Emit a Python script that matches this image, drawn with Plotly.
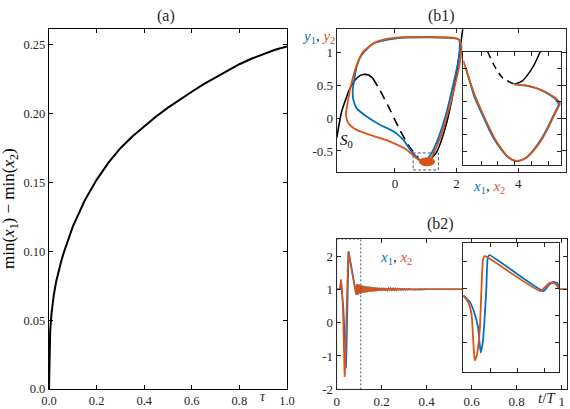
import plotly.graph_objects as go

BLUE = "#0072BD"
ORANGE = "#D95319"
FONT = "Liberation Serif, Times New Roman, DejaVu Serif, serif"

# ---------------- panel (a) ----------------
tau = [0, 0.001, 0.002, 0.005, 0.01, 0.015, 0.02, 0.03, 0.04, 0.05, 0.06, 0.075, 0.09, 0.1,
       0.15, 0.2, 0.25, 0.3, 0.35, 0.4, 0.45, 0.5, 0.55, 0.6, 0.65, 0.7, 0.75, 0.8,
       0.85, 0.9, 0.95, 1.0]
dmin = [0, 0.021, 0.030, 0.042, 0.054, 0.062, 0.068, 0.078, 0.086, 0.092, 0.098, 0.106,
        0.113, 0.118, 0.137, 0.152, 0.1645, 0.175, 0.1835, 0.191, 0.198, 0.2045, 0.2105,
        0.216, 0.2215, 0.2265, 0.2315, 0.236, 0.240, 0.2435, 0.2465, 0.249]
a_xticks = [0, 0.2, 0.4, 0.6, 0.8, 1.0]
a_xlabels = ["0.0", "0.2", "0.4", "0.6", "0.8", "1.0"]
a_yticks = [0, 0.05, 0.10, 0.15, 0.20, 0.25]
a_ylabels = ["0.0", "0.05", "0.10", "0.15", "0.20", "0.25"]

# ---------------- panel (b1): phase plane ----------------
orange_x = [0.97, 0.70, 0.38, -0.16, -0.81, -1.24, -1.51, -1.59, -1.51, -1.41, -1.24,
            -1.03, -0.59, 0.05, 1.14, 2.0, 2.11, 2.16, 2.11, 1.95, 1.73, 1.46, 1.26, 1.11, 0.97]
orange_y = [-0.686, -0.61, -0.48, -0.356, -0.254, -0.178, -0.076, 0.05, 0.305, 0.534, 0.813,
            1.016, 1.169, 1.23, 1.24, 1.22, 1.18, 1.067, 0.864, 0.508, 0.10, -0.305, -0.534, -0.66, -0.686]
blue_x = [0.92, 0.81, 0.54, 0.27, -0.05, -0.49, -0.92, -1.24, -1.35, -1.37, -1.33, -1.24,
          -1.08, -0.70, 0.05, 1.14, 2.0, 2.09, 2.10, 2.05, 1.89, 1.68, 1.41, 1.19, 1.03, 0.92]
blue_y = [-0.66, -0.635, -0.51, -0.33, -0.2, -0.10, 0.025, 0.15, 0.28, 0.43, 0.56, 0.79,
          0.965, 1.14, 1.22, 1.235, 1.215, 1.19, 1.05, 0.86, 0.51, 0.10, -0.30, -0.53, -0.635, -0.66]
s0_left_x = [-1.89, -1.73, -1.46, -1.30, -1.135, -1.03, -0.86, -0.72]
s0_left_y = [-0.30, 0.10, 0.457, 0.58, 0.65, 0.667, 0.66, 0.61]
s0_mid_x = [-0.72, -0.49, -0.16, 0.16, 0.49, 0.76]
s0_mid_y = [0.61, 0.43, 0.13, -0.18, -0.45, -0.60]
s0_right_x = [1.08, 1.35, 1.62, 1.84, 2.0, 2.11, 2.2]
s0_right_y = [-0.66, -0.52, -0.17, 0.27, 0.70, 1.05, 1.36]
blob_x = [1.29, 1.2565, 1.165, 1.04, 0.915, 0.8235, 0.79, 0.8235, 0.915, 1.04, 1.165, 1.2565, 1.29]
blob_y = [-0.665, -0.635, -0.613, -0.605, -0.613, -0.635, -0.665, -0.695, -0.717, -0.725,
          -0.717, -0.695, -0.665]

# b1 inset (zoomed coordinates, fractions of inset box)
in1_dash_x = [0.249, 0.32, 0.40, 0.522]
in1_dash_y = [1.0, 0.87, 0.77, 0.712]
in1_solid_x = [0.522, 0.60, 0.66, 0.72, 0.785]
in1_solid_y = [0.712, 0.74, 0.80, 0.88, 1.0]
in1_or_x = [0.0, 0.06, 0.12, 0.19, 0.256, 0.32, 0.392, 0.46, 0.529, 0.60, 0.666, 0.73,
            0.80, 0.87, 0.939, 0.985, 0.95, 0.88, 0.80, 0.72, 0.63, 0.522]
in1_or_y = [0.92, 0.76, 0.61, 0.47, 0.345, 0.235, 0.14, 0.07, 0.038, 0.045, 0.08, 0.14,
            0.225, 0.335, 0.46, 0.545, 0.585, 0.625, 0.66, 0.685, 0.703, 0.712]
in1_bl_x = [0.025, 0.06, 0.11, 0.18, 0.246, 0.31, 0.385, 0.455, 0.525, 0.595, 0.66, 0.722,
            0.79, 0.86, 0.928, 0.972, 0.94, 0.875, 0.80, 0.72, 0.63, 0.522]
in1_bl_y = [0.86, 0.755, 0.61, 0.47, 0.345, 0.235, 0.14, 0.07, 0.036, 0.043, 0.078, 0.138,
            0.222, 0.33, 0.452, 0.535, 0.582, 0.623, 0.659, 0.684, 0.702, 0.712]

# ---------------- panel (b2): time series ----------------
x2_early_t = [0, 0.015, 0.019, 0.0235, 0.028, 0.035, 0.037, 0.0445, 0.0515, 0.086]
x2_early_v = [1, 1, 1.3, 1.0, 0.3, -1.63, -1.5, 0.6, 2.12, 0.85]
x1_early_t = [0, 0.015, 0.019, 0.0235, 0.030, 0.037, 0.0415, 0.0445, 0.053, 0.087]
x1_early_v = [1, 1, 1.28, 1.0, 0.4, -0.6, -1.37, -0.6, 2.14, 0.84]
ring_t = [0.090, 0.095, 0.100, 0.105, 0.110, 0.115, 0.120, 0.125, 0.130, 0.135, 0.140,
          0.145, 0.150, 0.155, 0.160, 0.165, 0.170, 0.175, 0.180, 0.185, 0.190, 0.195,
          0.200, 0.205, 0.210, 0.215, 0.220, 0.225, 0.230, 0.235, 0.240, 0.245, 0.250,
          0.255, 0.260, 0.265, 0.270, 0.275, 0.280, 0.285, 0.290, 0.295, 0.300, 0.305,
          0.310, 0.315, 0.320, 0.325, 0.330, 0.335, 0.340, 0.345, 0.350, 0.355, 0.360,
          0.365, 0.370, 0.375, 0.400, 1.022]
ring_v = [1.16, 0.85, 1.14, 0.87, 1.12, 0.89, 1.10, 0.91, 1.09, 0.92, 1.08,
          0.93, 1.07, 0.935, 1.06, 0.945, 1.05, 0.952, 1.046, 0.957, 1.04, 0.962,
          1.036, 0.966, 1.033, 0.969, 1.030, 0.972, 1.027, 0.975, 1.025, 0.977, 1.023,
          0.979, 1.021, 0.981, 1.019, 0.983, 1.017, 0.985, 1.015, 0.986, 1.013, 0.988,
          1.011, 0.990, 1.009, 0.992, 1.007, 0.994, 1.005, 0.996, 1.004, 0.997, 1.003,
          0.998, 1.002, 0.999, 1.0, 1.0]

# b2 inset (fractions of inset box)
in2_or_x = [0, 0.051, 0.085, 0.102, 0.119, 0.143, 0.171, 0.205, 0.222, 0.256, 0.802,
            0.853, 0.904, 0.956, 1.0]
in2_or_y = [0.594, 0.542, 0.45, 0.267, 0.089, 0.136, 0.319, 0.869, 0.901, 0.89, 0.628,
            0.660, 0.694, 0.686, 0.649]
in2_bl_x = [0, 0.068, 0.119, 0.154, 0.181, 0.205, 0.239, 0.256, 0.273, 0.836, 0.887,
            0.939, 0.98, 1.0]
in2_bl_y = [0.594, 0.542, 0.45, 0.346, 0.149, 0.241, 0.634, 0.895, 0.908, 0.628, 0.672,
            0.699, 0.69, 0.66]

fig = go.Figure()

def line(x, y, color, xa, ya, width=1.8, dash=None, shape="spline", smooth=0.6):
    fig.add_trace(go.Scatter(x=x, y=y, mode="lines", xaxis=xa, yaxis=ya,
                             line=dict(color=color, width=width, dash=dash, shape=shape,
                                       smoothing=smooth if shape == "spline" else None),
                             showlegend=False, hoverinfo="skip"))

# (a)
line(tau, dmin, "black", "x", "y", width=2, shape="linear")
# (b1)
line(s0_left_x, s0_left_y, "black", "x2", "y2", width=1.6)
line(s0_mid_x, s0_mid_y, "black", "x2", "y2", width=1.6, dash="9px,6px")
line(s0_right_x, s0_right_y, "black", "x2", "y2", width=1.6)
line(blue_x, blue_y, BLUE, "x2", "y2", width=1.8)
line(orange_x, orange_y, ORANGE, "x2", "y2", width=1.8)
fig.add_trace(go.Scatter(x=blob_x, y=blob_y, mode="lines", fill="toself", fillcolor=ORANGE,
                         line=dict(color=ORANGE, width=1, shape="spline"), xaxis="x2", yaxis="y2",
                         showlegend=False, hoverinfo="skip"))
# (b1) inset
line(in1_dash_x, in1_dash_y, "black", "x3", "y3", width=1.5, dash="7px,5px")
line(in1_solid_x, in1_solid_y, "black", "x3", "y3", width=1.5)
line(in1_bl_x, in1_bl_y, BLUE, "x3", "y3", width=1.8, smooth=0.8)
line(in1_or_x, in1_or_y, ORANGE, "x3", "y3", width=1.8, smooth=0.8)
# (b2)
line(x1_early_t + ring_t, x1_early_v + ring_v, BLUE, "x4", "y4", width=1.6, shape="linear")
line(x2_early_t + ring_t, x2_early_v + ring_v, ORANGE, "x4", "y4", width=1.6, shape="linear")
# (b2) inset
line(in2_bl_x, in2_bl_y, BLUE, "x5", "y5", width=1.8, smooth=0.5)
line(in2_or_x, in2_or_y, ORANGE, "x5", "y5", width=1.8, smooth=0.5)

def ax(domain, rng, anchor, tickvals=None, ticktext=None, labels=True, color="#262626",
       lw=1.0, tfs=12.5):
    d = dict(domain=domain, range=rng, anchor=anchor, showgrid=False, zeroline=False,
             showline=True, linecolor=color, linewidth=lw, mirror="ticks", ticks="inside",
             ticklen=4, tickcolor=color, tickwidth=1, automargin=False,
             showticklabels=labels, tickfont=dict(family=FONT, size=tfs, color="#262626"))
    if tickvals is not None:
        d["tickmode"] = "array"
        d["tickvals"] = tickvals
        if ticktext is not None:
            d["ticktext"] = ticktext
    return d

W, H = 570, 409
def fx(a, b): return [a / W, b / W]
def fy(top, bot): return [1 - bot / H, 1 - top / H]

fig.update_layout(
    xaxis=ax(fx(49, 287), [0, 1], "y", a_xticks, a_xlabels, color="black", lw=1.4, tfs=12.5),
    yaxis=ax(fy(29, 389), [0, 0.2616], "x", a_yticks, a_ylabels, color="black", lw=1.4, tfs=12.5),
    xaxis2=ax(fx(336.7, 565.7), [-1.89, 5.54], "y2", [0, 2, 4], ["0", "2", "4"], tfs=13),
    yaxis2=ax(fy(29.3, 171.7), [-0.816, 1.357], "x2", [-0.5, 0, 0.5, 1], ["-0.5", "0", "0.5", "1"], tfs=13),
    xaxis3=ax(fx(463.3, 561.3), [0, 1], "y3", [0.181, 0.352, 0.522, 0.693, 0.87], labels=False),
    yaxis3=ax(fy(51.7, 165), [0, 1], "x3", [0.118, 0.265, 0.412, 0.559, 0.706, 0.853], labels=False),
    xaxis4=ax(fx(336.7, 566.7), [0, 1.022], "y4", [0, 0.2, 0.4, 0.6, 0.8, 1],
              ["0", "0.2", "0.4", "0.6", "0.8", "1"], tfs=13),
    yaxis4=ax(fy(239, 389.3), [-2, 2.51], "x4", [-2, -1, 0, 1, 2], ["-2", "-1", "0", "1", "2"], tfs=13),
    xaxis5=ax(fx(463.3, 559.3), [0, 1], "y5", [0.283, 0.566, 0.85], labels=False),
    yaxis5=ax(fy(243.3, 371.7), [0, 1], "x5", [0.228, 0.437, 0.647, 0.856], labels=False),
    width=W, height=H, margin=dict(l=0, r=0, t=0, b=0),
    paper_bgcolor="white", plot_bgcolor="white", template="none",
    font=dict(family=FONT, color="#262626"),
)

shapes = [
    dict(type="rect", xref="x3", yref="y3", x0=0, x1=1, y0=0, y1=1, layer="below",
         fillcolor="white", line=dict(width=0)),
    dict(type="rect", xref="x5", yref="y5", x0=0, x1=1, y0=0, y1=1, layer="below",
         fillcolor="white", line=dict(width=0)),
    dict(type="rect", xref="x2", yref="y2", x0=0.59, x1=1.41, y0=-0.79, y1=-0.53,
         line=dict(color="#555555", width=1, dash="3px,2px")),
    dict(type="rect", xref="x4", yref="y4", x0=0, x1=0.107, y0=-2, y1=2.51,
         line=dict(color="#555555", width=1, dash="2px,2px")),
]
fig.update_layout(shapes=shapes)

def ann(x, y, text, size, color="#262626", xanchor="center", yanchor="middle"):
    return dict(xref="paper", yref="paper", x=x / W, y=1 - y / H, text=text, showarrow=False,
                font=dict(family=FONT, size=size, color=color), xanchor=xanchor, yanchor=yanchor)

def sub(v, n, c):
    return f'<span style="color:{c}"><i>{v}</i><sub>{n}</sub></span>'

annotations = [
    ann(166, 15.5, "(a)", 16),
    ann(441.7, 16, "(b1)", 16),
    ann(440, 224, "(b2)", 16),
    dict(xref="paper", yref="paper", x=10 / W, y=1 - 209 / H,
         text="min(<i>x</i><sub>1</sub>) − min(<i>x</i><sub>2</sub>)",
         textangle=-90, showarrow=False, font=dict(family=FONT, size=17, color="black"),
         xanchor="center", yanchor="middle"),
    ann(263, 396, "<i>τ</i>", 14),
    ann(337, 37, sub("y", 1, BLUE) + ", " + sub("y", 2, ORANGE), 15, xanchor="right"),
    ann(346, 141, "<i>S</i><sub>0</sub>", 15, color="black"),
    ann(489, 187, sub("x", 1, BLUE) + ", " + sub("x", 2, ORANGE), 15),
    ann(395.5, 257.5, sub("x", 1, BLUE) + ", " + sub("x", 2, ORANGE), 15),
    ann(546.7, 398, "<i>t</i>/<i>T</i>", 15),
]
fig.update_layout(annotations=annotations)

fig.write_html("out.html")
